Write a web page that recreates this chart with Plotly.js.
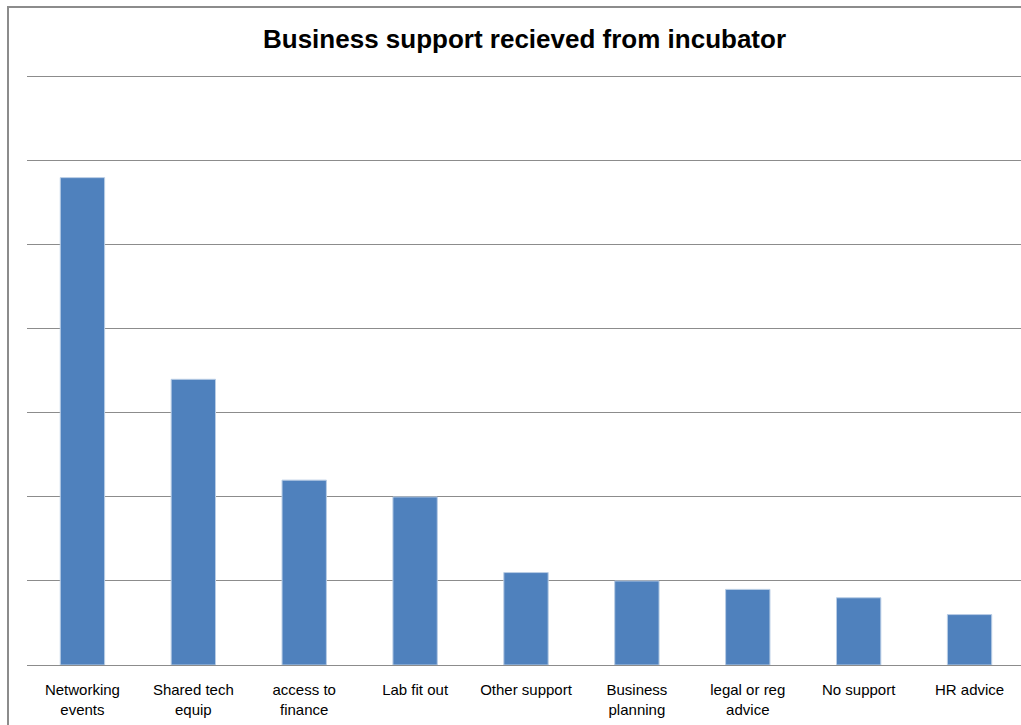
<!DOCTYPE html>
<html>
<head>
<meta charset="utf-8">
<script src="https://cdn.plot.ly/plotly-3.0.1.min.js"></script>
<style>
html,body{margin:0;padding:0;overflow:hidden;background:#fff;width:1021px;height:725px;}
#chart{position:absolute;left:7px;top:6px;width:1030px;height:740px;border:2px solid #8c8c8c;}
</style>
</head>
<body>
<div id="chart"></div>
<script>
const categories = ["Networking<br>events", "Shared tech<br>equip", "access to<br>finance", "Lab fit out", "Other support", "Business<br>planning", "legal or reg<br>advice", "No support", "HR advice"];
const values = [58, 34, 22, 20, 11, 10, 9, 8, 6];
const titleText = "Business support recieved from incubator";

const trace = {
  type: "bar",
  x: categories,
  y: values,
  marker: {color: "#4F81BD", line: {color: "#B9CDE5", width: 1}},
  hoverinfo: "x+y"
};

const layout = {
  width: 1030,
  height: 740,
  margin: {l: 17.5, r: 13.5, t: 52.0, b: 82.5, pad: 0},
  paper_bgcolor: "#ffffff",
  plot_bgcolor: "#ffffff",
  bargap: 0.6,
  showlegend: false,
  title: {
    text: "<b>" + titleText + "</b>",
    x: 0.5005, xref: "container", xanchor: "center",
    y: 0.958, yref: "container", yanchor: "middle",
    font: {family: "Liberation Sans, Arial, sans-serif", size: 26, color: "#000000"}
  },
  xaxis: {
    type: "category",
    showgrid: false,
    showline: true,
    linecolor: "#8c8c8c",
    linewidth: 1,
    ticks: "",
    ticklen: 0,
    ticklabelstandoff: 11,
    tickfont: {family: "Liberation Sans, Arial, sans-serif", size: 15, color: "#000000"},
    automargin: false
  },
  yaxis: {
    range: [0, 72],
    tick0: 0,
    dtick: 10,
    showgrid: true,
    gridcolor: "#8c8c8c",
    gridwidth: 1,
    zeroline: false,
    showline: false,
    showticklabels: false,
    ticks: ""
  }
};

Plotly.newPlot("chart", [trace], layout, {displayModeBar: false, staticPlot: true});
</script>
</body>
</html>
